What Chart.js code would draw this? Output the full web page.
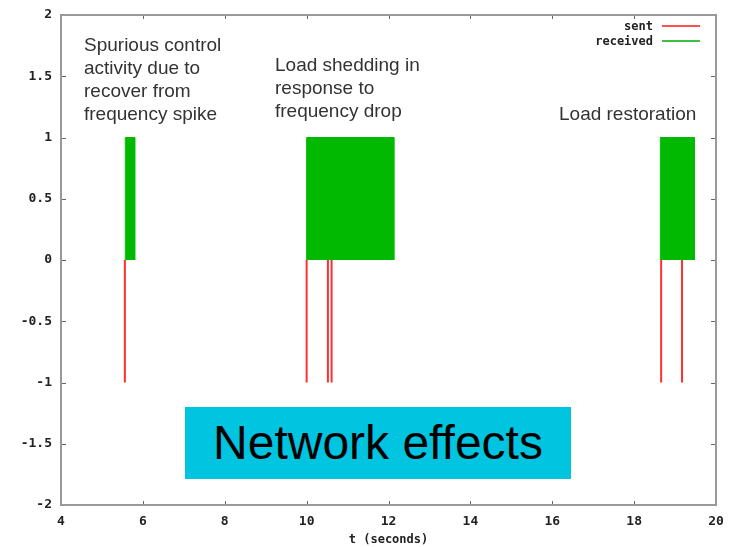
<!DOCTYPE html>
<html>
<head>
<meta charset="utf-8">
<script src="https://cdn.jsdelivr.net/npm/chart.js@4.4.1/dist/chart.umd.min.js"></script>
<style>
  body { margin: 0; background: #fff; }
  #wrap { position: relative; width: 730px; height: 547px; }
  .note { position: absolute; font-family: "Liberation Sans", Arial, sans-serif; font-size: 19px; line-height: 23px; color: #333; white-space: nowrap; }
  .leg { position: absolute; font-family: "DejaVu Sans Mono", monospace; font-weight: bold; font-size: 12px; color: #222; text-align: right; width: 120px; }
  .legline { position: absolute; height: 2px; width: 38px; left: 662px; }
  #box { position: absolute; left: 185px; top: 407px; width: 386px; height: 72px; background: #00c4e0;
         font-family: "Liberation Sans", Arial, sans-serif; font-size: 48px; line-height: 72px; text-align: center; color: #000; }
</style>
</head>
<body>
<div id="wrap">
  <canvas id="chart" width="730" height="547"></canvas>
  <div class="note" style="left:84px; top:33px;">Spurious control<br>activity due to<br>recover from<br>frequency spike</div>
  <div class="note" style="left:275px; top:53px;">Load shedding in<br>response to<br>frequency drop</div>
  <div class="note" style="left:559px; top:102px;">Load restoration</div>
  <div class="leg" style="left:533px; top:19px;">sent</div>
  <div class="legline" style="top:25px; background:#ff5050;"></div>
  <div class="leg" style="left:533px; top:34px;">received</div>
  <div class="legline" style="top:40px; background:#40c040;"></div>
  <div id="box">Network effects</div>
</div>
<script>
// packets sent (impulses from -1 to 0), times in seconds
const sentTimes = [5.56, 10.0, 10.52, 10.61, 18.66, 19.17];
// packets received (blocks from 0 to 1), start / end in seconds
const recvStart = [5.57, 10.0, 18.64];
const recvEnd = [5.80, 12.13, 19.47];
const xTicks = [4, 6, 8, 10, 12, 14, 16, 18, 20];
const yTicks = [-2, -1.5, -1, -0.5, 0, 0.5, 1, 1.5, 2];

const sentPts = sentTimes.flatMap(t => [{x: t, y: -1}, {x: t, y: 0}, {x: t, y: null}]);
const recvPts = recvStart.flatMap((s, i) => [
  {x: s, y: 0}, {x: s, y: 1}, {x: recvEnd[i], y: 1}, {x: recvEnd[i], y: 0}, {x: recvEnd[i], y: null}
]);

const tickFont = {family: 'DejaVu Sans Mono', weight: 'bold', size: 13};

// frame round the plot with small inward ticks, gnuplot style
const framePlugin = {
  id: 'frame',
  afterDraw(chart) {
    const ctx = chart.ctx, a = chart.chartArea;
    const sx = chart.scales.x, sy = chart.scales.y;
    ctx.save();
    ctx.strokeStyle = '#666';
    ctx.lineWidth = 1;
    ctx.beginPath();
    xTicks.forEach(v => {
      const px = Math.round(sx.getPixelForValue(v)) + 0.5;
      ctx.moveTo(px, a.bottom); ctx.lineTo(px, a.bottom - 4);
      ctx.moveTo(px, a.top); ctx.lineTo(px, a.top + 4);
    });
    yTicks.forEach(v => {
      const py = Math.round(sy.getPixelForValue(v)) + 0.5;
      ctx.moveTo(a.left, py); ctx.lineTo(a.left + 5, py);
      ctx.moveTo(a.right, py); ctx.lineTo(a.right - 5, py);
    });
    ctx.stroke();
    ctx.strokeStyle = '#999';
    ctx.lineWidth = 2;
    ctx.strokeRect(a.left, a.top, a.right - a.left, a.bottom - a.top);
    ctx.restore();
  }
};

new Chart(document.getElementById('chart'), {
  type: 'line',
  data: {
    datasets: [{
      label: 'received',
      data: recvPts,
      borderColor: '#00b900',
      backgroundColor: '#00b900',
      borderWidth: 1,
      fill: 'origin',
      spanGaps: false
    }, {
      label: 'sent',
      data: sentPts,
      borderColor: '#ff3030',
      borderWidth: 2,
      fill: false,
      spanGaps: false
    }]
  },
  options: {
    responsive: false,
    animation: false,
    layout: {padding: {top: 15, right: 14, left: 0, bottom: 0}},
    elements: {point: {radius: 0}, line: {tension: 0}},
    plugins: {legend: {display: false}, tooltip: {enabled: false}},
    scales: {
      x: {
        type: 'linear', min: 4, max: 20,
        afterBuildTicks: s => { s.ticks = xTicks.map(v => ({value: v})); },
        afterFit: s => { s.height = 42; s.paddingLeft = 0; s.paddingRight = 0; },
        grid: {display: false, drawTicks: false},
        border: {display: false},
        ticks: {font: tickFont, color: '#222', padding: 9, maxRotation: 0, callback: v => String(v)},
        title: {display: true, text: 't (seconds)', font: {family: 'DejaVu Sans Mono', weight: 'bold', size: 12}, color: '#222', padding: {top: 0, bottom: 0}}
      },
      y: {
        min: -2, max: 2,
        afterBuildTicks: s => { s.ticks = yTicks.map(v => ({value: v})); },
        afterFit: s => { s.width = 61; s.paddingTop = 0; s.paddingBottom = 0; },
        grid: {display: false, drawTicks: false},
        border: {display: false},
        ticks: {font: tickFont, color: '#222', padding: 9, callback: v => String(v)}
      }
    }
  },
  plugins: [framePlugin]
});
</script>
</body>
</html>
